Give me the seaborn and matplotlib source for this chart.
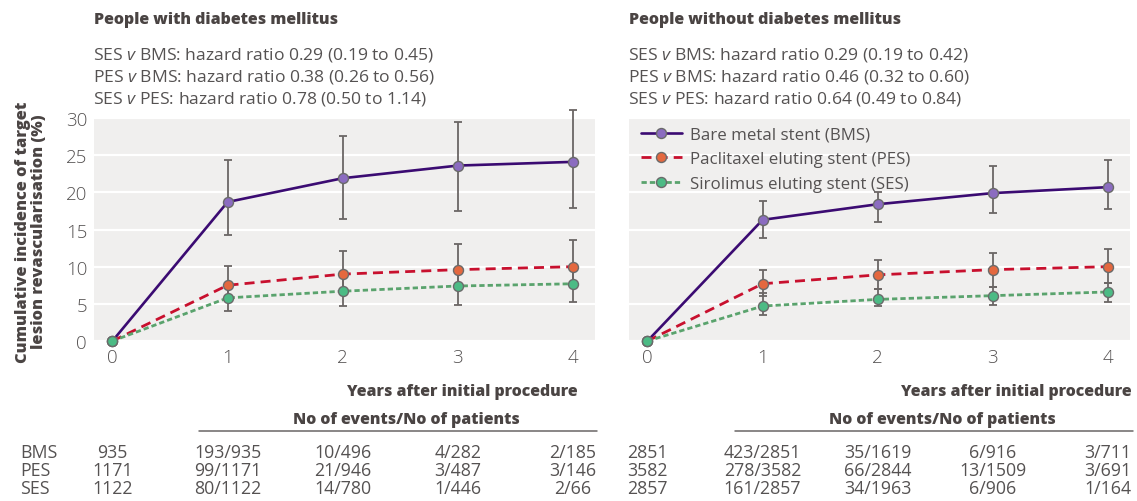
import matplotlib
matplotlib.use("Agg")
import matplotlib.pyplot as plt
import matplotlib.transforms as mtransforms
from matplotlib.lines import Line2D
import pandas as pd
import seaborn as sns

# ---- data -------------------------------------------------------------
years = [0, 1, 2, 3, 4]
codes = ["BMS", "PES", "SES"]
stent_names = ["Bare metal stent (BMS)", "Paclitaxel eluting stent (PES)",
               "Sirolimus eluting stent (SES)"]

# People with diabetes mellitus: cumulative TLR (%) with 95% CI
dm_bms = [0, 18.7, 21.9, 23.6, 24.1]
dm_bms_lo = [0, 14.2, 16.4, 17.5, 17.9]
dm_bms_hi = [0, 24.3, 27.6, 29.5, 31.1]
dm_pes = [0, 7.5, 9.0, 9.6, 10.0]
dm_pes_lo = [0, 5.8, 6.8, 7.5, 7.8]
dm_pes_hi = [0, 10.1, 12.1, 13.0, 13.6]
dm_ses = [0, 5.8, 6.7, 7.4, 7.7]
dm_ses_lo = [0, 4.0, 4.7, 4.9, 5.2]
dm_ses_hi = [0, 7.6, 9.0, 9.6, 10.0]

# People without diabetes mellitus
nd_bms = [0, 16.3, 18.4, 19.9, 20.7]
nd_bms_lo = [0, 13.9, 16.0, 17.2, 17.8]
nd_bms_hi = [0, 18.9, 20.0, 23.5, 24.4]
nd_pes = [0, 7.7, 8.9, 9.6, 10.0]
nd_pes_lo = [0, 6.1, 7.0, 7.3, 7.8]
nd_pes_hi = [0, 9.5, 10.9, 11.8, 12.4]
nd_ses = [0, 4.7, 5.6, 6.1, 6.6]
nd_ses_lo = [0, 3.5, 4.7, 4.8, 5.2]
nd_ses_hi = [0, 6.5, 7.0, 7.3, 7.8]

dm_hr = ["SES $\\mathit{v}$ BMS: hazard ratio 0.29 (0.19 to 0.45)",
         "PES $\\mathit{v}$ BMS: hazard ratio 0.38 (0.26 to 0.56)",
         "SES $\\mathit{v}$ PES: hazard ratio 0.78 (0.50 to 1.14)"]
nd_hr = ["SES $\\mathit{v}$ BMS: hazard ratio 0.29 (0.19 to 0.42)",
         "PES $\\mathit{v}$ BMS: hazard ratio 0.46 (0.32 to 0.60)",
         "SES $\\mathit{v}$ PES: hazard ratio 0.64 (0.49 to 0.84)"]

# Events / patients at risk, per year column (0..4)
dm_table = {
    "BMS": ["935", "193/935", "10/496", "4/282", "2/185"],
    "PES": ["1171", "99/1171", "21/946", "3/487", "3/146"],
    "SES": ["1122", "80/1122", "14/780", "1/446", "2/66"],
}
nd_table = {
    "BMS": ["2851", "423/2851", "35/1619", "6/916", "3/711"],
    "PES": ["3582", "278/3582", "66/2844", "13/1509", "3/691"],
    "SES": ["2857", "161/2857", "34/1963", "6/906", "1/164"],
}

# ---- style ------------------------------------------------------------
BG = "#f0efee"
TXT = "#555252"
BOLD = "#4a4443"
line_col = {"BMS": "#3b0b72", "PES": "#c8102e", "SES": "#5aa36d"}
face_col = {"BMS": "#8b6cc0", "PES": "#e4683f", "SES": "#4cbb85"}
dash_spec = {"BMS": "", "PES": (3.6, 2.2), "SES": (1.9, 1.1)}
line_w = {"BMS": 1.9, "PES": 2.0, "SES": 2.0}
EDGE = "#6a6a6a"
ERR = "#6b6665"

sns.set_style("darkgrid", {"axes.facecolor": BG, "grid.color": "white"})
FONT = ["Open Sans", "DejaVu Sans"]
plt.rcParams["font.family"] = FONT
plt.rcParams["mathtext.fontset"] = "custom"
plt.rcParams["mathtext.rm"] = "Open Sans"
plt.rcParams["mathtext.it"] = "Open Sans:italic"

W, H = 1137, 502
fig = plt.figure(figsize=(W / 100, H / 100), dpi=100)
fig.patch.set_facecolor("white")


def fx(px):
    return px / W


def fy(py):
    return 1 - py / H


panels = [
    dict(left=94, title="People with diabetes mellitus", hr=dm_hr, table=dm_table,
         vals={"BMS": (dm_bms, dm_bms_lo, dm_bms_hi),
               "PES": (dm_pes, dm_pes_lo, dm_pes_hi),
               "SES": (dm_ses, dm_ses_lo, dm_ses_hi)},
         rule=(199, 597), xlab_right=578, legend=False, labels=True),
    dict(left=629, title="People without diabetes mellitus", hr=nd_hr, table=nd_table,
         vals={"BMS": (nd_bms, nd_bms_lo, nd_bms_hi),
               "PES": (nd_pes, nd_pes_lo, nd_pes_hi),
               "SES": (nd_ses, nd_ses_lo, nd_ses_hi)},
         rule=(735, 1133), xlab_right=1132, legend=True, labels=False),
]

for p in panels:
    ax = fig.add_axes([fx(p["left"]), fy(342), fx(501), (342 - 119) / H])
    rows = []
    for c in codes:
        est, lo, hi = p["vals"][c]
        for yr, v, l, h in zip(years, est, lo, hi):
            rows.append(dict(year=yr, stent=c, tlr=v, lo=l, hi=h))
    df = pd.DataFrame(rows)

    # confidence intervals beneath the curves
    for c in codes:
        d = df[(df.stent == c) & (df.year > 0)]
        ax.errorbar(d.year, d.tlr, yerr=[d.tlr - d.lo, d.hi - d.tlr], fmt="none",
                    ecolor=ERR, elinewidth=1.3, capsize=3.2, capthick=1.3,
                    zorder=2, clip_on=False)

    sns.lineplot(data=df, x="year", y="tlr", hue="stent", style="stent",
                 hue_order=codes, style_order=codes,
                 palette=line_col, dashes=dash_spec,
                 markers={c: "o" for c in codes}, markersize=7.2,
                 markeredgecolor=EDGE, markeredgewidth=1.0,
                 legend=False, ax=ax, zorder=3, clip_on=False)
    for ln, c in zip(ax.lines[-3:], codes):
        ln.set_markerfacecolor(face_col[c])
        ln.set_linewidth(line_w[c])

    ax.set_xlim(-0.16, 4.19)
    ax.set_ylim(0, 30)
    ax.set_xticks(years)
    ax.set_yticks([0, 5, 10, 15, 20, 25, 30])
    ax.grid(axis="x", visible=False)
    ax.grid(axis="y", color="white", linewidth=1.6)
    for s in ax.spines.values():
        s.set_visible(False)
    ax.tick_params(axis="x", direction="inout", length=8, width=1.2, color="white",
                   labelsize=13.5, labelcolor=TXT, pad=1)
    ax.tick_params(axis="y", length=0, labelsize=13.5, labelcolor=TXT, pad=5,
                   labelleft=p["labels"])
    for t in ax.get_xticklabels() + ax.get_yticklabels():
        t.set_fontweight("light")
    ax.set_xlabel("")
    ax.set_ylabel("")

    # headings
    fig.text(fx(p["left"]), fy(20), p["title"], ha="left", va="center",
             fontsize=11.5, fontweight="heavy", color=BOLD)
    for i, line in enumerate(p["hr"]):
        fig.text(fx(p["left"] - 1), fy(55 + 22 * i), line, ha="left", va="center",
                 fontsize=12.6, color=TXT)

    # axis caption and at-risk table
    fig.text(fx(p["xlab_right"]), fy(392), "Years after initial procedure", ha="right",
             va="center", fontsize=11.4, fontweight="heavy", color=BOLD)
    r0, r1 = p["rule"]
    fig.text(fx((r0 + r1) / 2 + 8), fy(420), "No of events/No of patients",
             ha="center", va="center", fontsize=11.4, fontweight="heavy", color=BOLD)
    fig.add_artist(Line2D([fx(r0), fx(r1)], [fy(432), fy(432)], color="#6a6666",
                          linewidth=1.1))
    trans = mtransforms.blended_transform_factory(ax.transData, fig.transFigure)
    for i, c in enumerate(codes):
        yy = fy(453 + 18 * i)
        if p["labels"]:
            fig.text(fx(20), yy, c, ha="left", va="center", fontsize=12.8, color=TXT)
        for yr, cell in zip(years, p["table"][c]):
            ax.text(yr, yy, cell, transform=trans, ha="center", va="center",
                    fontsize=12.8, color=TXT, clip_on=False)

    if p["legend"]:
        handles = [Line2D([], [], color=line_col[c], linewidth=line_w[c],
                          linestyle="-" if c == "BMS" else (0, dash_spec[c]),
                          marker="o", markersize=7.2, markerfacecolor=face_col[c],
                          markeredgecolor=EDGE, markeredgewidth=1.0)
                   for c in codes]
        leg = ax.legend(handles, stent_names, loc="upper left", frameon=False,
                        fontsize=12.2, handlelength=2.4, handletextpad=0.5,
                        labelspacing=0.52, borderaxespad=0.3,
                        bbox_to_anchor=(0.0, 1.015))
        for t in leg.get_texts():
            t.set_color(TXT)

fig.text(fx(31), fy(232), "Cumulative incidence of target\nlesion revascularisation (%)",
         rotation=90, ha="center", va="center", multialignment="center",
         fontsize=11.8, fontweight="heavy", color=BOLD, linespacing=1.05)

fig.savefig("out.png", dpi=100, facecolor="white")
